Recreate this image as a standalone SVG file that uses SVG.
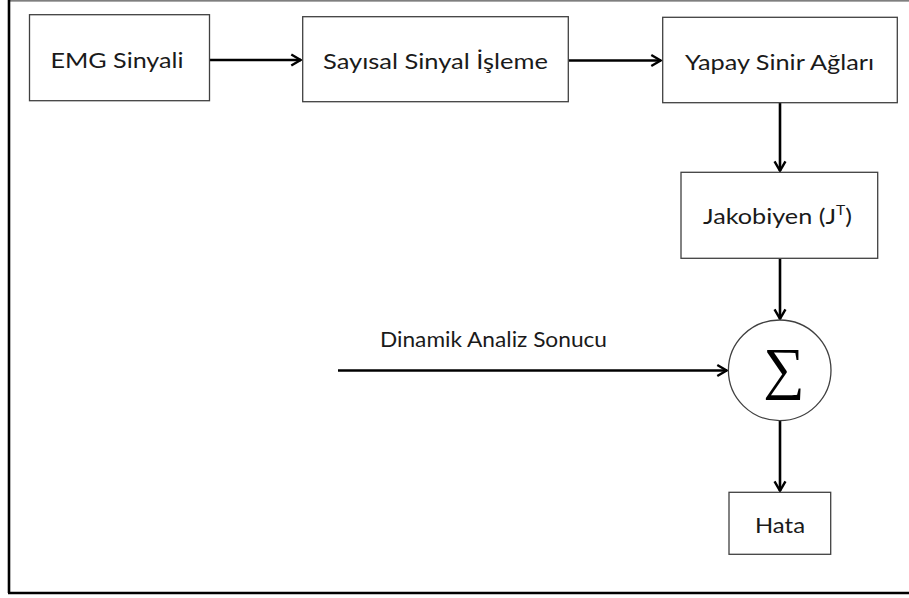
<svg xmlns="http://www.w3.org/2000/svg" width="909" height="598" viewBox="0 0 909 598">
<defs>
<style>
.box{fill:#fff;stroke:#404040;stroke-width:1.3}
.lbl{font-family:Lato,"Liberation Sans",sans-serif;font-size:21px;fill:#1a1a1a;text-anchor:middle}
.conn{stroke:#000;stroke-width:2.6;fill:none}
</style>
<marker id="arr" viewBox="0 0 12 12" refX="10.5" refY="6" markerWidth="5.6" markerHeight="5.6" markerUnits="strokeWidth" orient="auto">
<path d="M2.5,1.5 L10.3,6 L2.5,10.5" fill="none" stroke="#000" stroke-width="2" stroke-linejoin="miter"/>
</marker>
</defs>
<rect width="909" height="598" fill="#fff"/>
<g id="frame">
<line x1="9" y1="0.8" x2="909" y2="0.8" stroke="#555" stroke-width="1.3"/>
<line x1="9" y1="0" x2="9" y2="593" stroke="#000" stroke-width="2.6"/>
<line x1="8" y1="593" x2="909" y2="593" stroke="#000" stroke-width="2.6"/>
</g>
<g id="connectors">
<line class="conn" x1="210" y1="60" x2="301" y2="60" marker-end="url(#arr)"/>
<line class="conn" x1="569" y1="60.5" x2="661" y2="60.5" marker-end="url(#arr)"/>
<line class="conn" x1="780" y1="103" x2="780" y2="171" marker-end="url(#arr)"/>
<line class="conn" x1="780" y1="259" x2="780" y2="319" marker-end="url(#arr)"/>
<line class="conn" x1="338" y1="370.5" x2="727" y2="370.5" marker-end="url(#arr)"/>
<line class="conn" x1="780" y1="421" x2="780" y2="491" marker-end="url(#arr)"/>
</g>
<g id="emg">
<rect class="box" x="29.5" y="14.7" width="180" height="86"/>
<text class="lbl" x="117" y="68" textLength="133" lengthAdjust="spacingAndGlyphs">EMG Sinyali</text>
</g>
<g id="sayisal">
<rect class="box" x="302.7" y="16.7" width="265.6" height="85"/>
<text class="lbl" x="435.5" y="68.5" textLength="225" lengthAdjust="spacingAndGlyphs">Sayısal Sinyal İşleme</text>
</g>
<g id="yapay">
<rect class="box" x="662.7" y="17.3" width="234.6" height="85.4"/>
<text class="lbl" x="779.5" y="69.5" textLength="189" lengthAdjust="spacingAndGlyphs">Yapay Sinir Ağları</text>
</g>
<g id="jakobiyen">
<rect class="box" x="681" y="172.3" width="196.7" height="86"/>
<text class="lbl" style="text-anchor:start" x="703" y="224" textLength="149" lengthAdjust="spacingAndGlyphs">Jakobiyen (J<tspan font-size="13" dy="-9">T</tspan><tspan dy="9">)</tspan></text>
</g>
<g id="sum">
<ellipse cx="779.7" cy="370.3" rx="51.3" ry="50.3" fill="#fff" stroke="#404040" stroke-width="1.3"/>
<text x="784" y="388" font-family="Liberation Serif,serif" font-size="58" text-anchor="middle" fill="#000">∑</text>
</g>
<g id="hata">
<rect class="box" x="729" y="492.3" width="101.7" height="62"/>
<text class="lbl" x="780" y="532.5" textLength="50" lengthAdjust="spacingAndGlyphs">Hata</text>
</g>
<g id="dinamik-label">
<text class="lbl" x="493.5" y="347" textLength="227" lengthAdjust="spacingAndGlyphs">Dinamik Analiz Sonucu</text>
</g>
</svg>
